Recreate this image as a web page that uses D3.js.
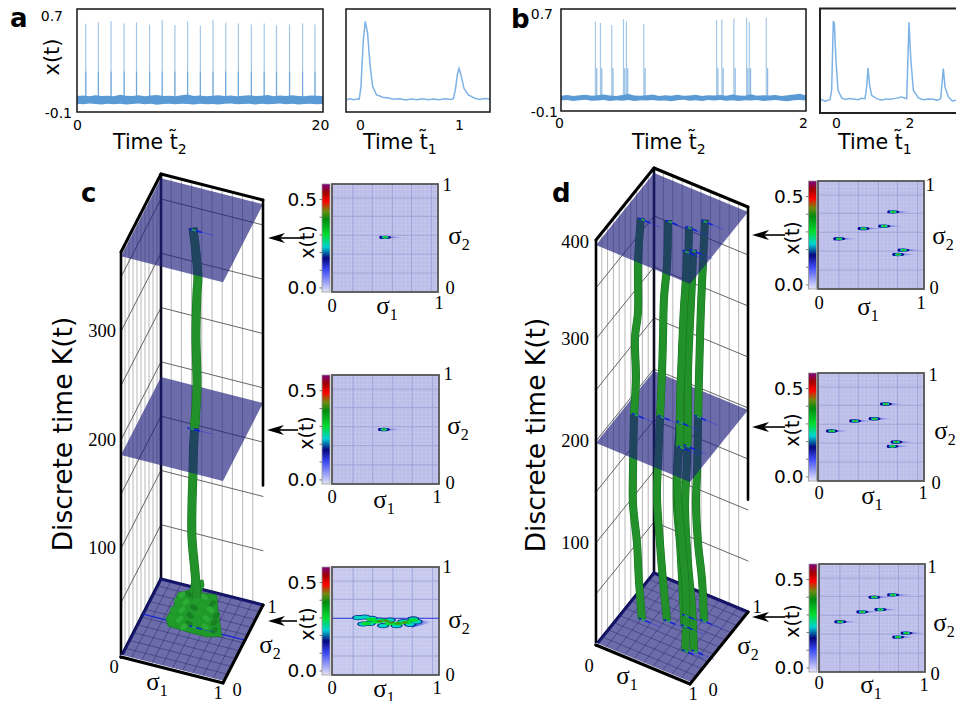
<!DOCTYPE html>
<html><head><meta charset="utf-8">
<script src="https://cdnjs.cloudflare.com/ajax/libs/d3/7.8.5/d3.min.js"></script>
<style>html,body{margin:0;padding:0;background:#fff;overflow:hidden}svg{display:block}</style>
</head><body><svg id="fig" width="956" height="701" viewBox="0 0 956 701"></svg>
<script>
/* ---------- panel a : time series ---------- */
const aSpikeT   = [0.71,1.74,2.77,3.83,4.84,5.90,6.93,7.96,8.99,10.03,11.06,12.09,13.12,14.18,15.22,16.22,17.28,18.34,19.35];
const aSpikeTop = [0.586,0.596,0.606,0.588,0.596,0.578,0.617,0.573,0.604,0.570,0.617,0.593,0.588,0.580,0.588,0.573,0.580,0.588,0.580];
const aBandT    = [0,0.5,1,1.5,2,2.5,3,3.5,4,4.5,5,5.5,6,6.5,7,7.5,8,8.5,9,9.5,10,10.5,11,11.5,12,12.5,13,13.5,14,14.5,15,15.5,16,16.5,17,17.5,18,18.5,19,19.5,20];
const aBandHi   = [.024,.028,.022,.030,.024,.026,.022,.034,.026,.024,.030,.023,.028,.033,.024,.027,.022,.030,.036,.024,.028,.023,.026,.031,.024,.028,.022,.027,.030,.024,.026,.033,.023,.028,.024,.030,.025,.022,.029,.026,.024];
const aBandLo   = [-.036,-.040,-.034,-.038,-.042,-.036,-.039,-.035,-.041,-.037,-.034,-.040,-.036,-.043,-.038,-.035,-.040,-.036,-.038,-.042,-.035,-.039,-.037,-.041,-.036,-.034,-.040,-.038,-.036,-.041,-.035,-.039,-.037,-.034,-.040,-.036,-.042,-.038,-.035,-.039,-.037];
const aPeakT = [-.141,-.10,-.06,-.02,-.007,.01,.034,.054,.077,.10,.128,.168,.20,.236,.28,.337,.40,.46,.52,.572,.63,.69,.741,.80,.86,.92,.943,.963,.983,1.0,1.02,1.05,1.094,1.162,1.21,1.26,1.313];
const aPeakV = [-.006,.002,-.004,.003,.001,.097,.461,.604,.513,.279,.097,.032,.024,.012,.010,-.001,.003,-.006,.001,-.005,.002,-.004,.001,-.005,.002,-.002,.003,.071,.188,.240,.188,.084,.032,.006,-.002,.005,.001];
/* ---------- panel b : time series ---------- */
const bSpikeT   = [0.281,0.322,0.414,0.51,0.534,0.676,1.27,1.313,1.411,1.515,1.537,1.676];
const bSpikeTop = [0.599,0.591,0.573,0.62,0.604,0.58,0.612,0.62,0.627,0.632,0.60,0.632];
const bBandT    = [0,.05,.1,.15,.2,.25,.3,.35,.4,.45,.5,.55,.6,.65,.7,.75,.8,.85,.9,.95,1,1.05,1.1,1.15,1.2,1.25,1.3,1.35,1.4,1.45,1.5,1.55,1.6,1.65,1.7,1.75,1.8,1.85,1.9,1.95,2];
const bBandHi   = [.020,.026,.018,.024,.028,.019,.023,.030,.021,.018,.026,.033,.022,.019,.024,.029,.018,.023,.020,.027,.019,.022,.028,.018,.024,.021,.026,.019,.029,.022,.020,.032,.019,.024,.021,.026,.018,.023,.030,.036,.022];
const bBandLo   = [-.018,-.014,-.022,-.016,-.012,-.020,-.017,-.013,-.021,-.015,-.019,-.014,-.022,-.016,-.018,-.013,-.020,-.017,-.023,-.015,-.012,-.019,-.016,-.021,-.014,-.018,-.013,-.020,-.016,-.022,-.015,-.018,-.013,-.021,-.017,-.014,-.019,-.023,-.016,-.013,-.018];
const bPeakT = [-.436,-.418,-.30,-.164,-.118,-.073,-.045,0,.055,.155,.25,.36,.473,.60,.70,.791,.836,.873,.918,.973,1.11,1.25,1.36,1.473,1.62,1.79,1.927,1.955,1.991,2.036,2.109,2.245,2.38,2.52,2.655,2.76,2.855,2.891,2.927,2.973,3.064,3.17,3.273];
const bPeakV = [-.008,.005,-.010,.002,.074,.605,.585,.304,.074,.015,.004,.011,.007,.001,.012,.010,.099,.245,.112,.035,.010,-.002,.008,.005,.012,.023,.010,.253,.595,.329,.074,.015,.001,.008,.005,-.003,.010,.125,.240,.099,.023,-.008,-.003];
const sharedYTicks = [-0.1,0.7];

/* ---------- panel c : 3-D trajectory ---------- */
const cPillarK  = [370,326,311,271,225,191,167,145,114,84,53,30];
const cPillarS1 = [.502,.55,.541,.531,.541,.522,.507,.502,.492,.492,.522,.54];
const cPillarS2 = .52;
const cBlobS1 = [.497,.608,.618,.588,.742,.755,.791,.644,.448,.265,.245,.314,.363,.48];
const cBlobK  = [45.4,49.6,45,37.4,39,25.4,1.8,-2,-1.9,-1,5.9,16.8,31.7,37.3];
const cFacetS1 = [.40,.47,.55,.62,.70,.36,.44,.52,.60,.68,.74,.32,.40,.48,.56,.64,.72,.30,.38,.47,.55,.63,.72,.52,.42];
const cFacetK  = [31,33,29,34,30,24,25,22,26,24,20,15,17,14,18,15,13,7,8,6,9,7,6,38,2];
const cKTickLabels = ['100','200','300'];
const cKTicks = [100,200,300];
const cPlanes = [0,186,369];
/* ---------- panel d : 3-D trajectories ---------- */
const dP1K=[393,349,300,273,234,197,140,110,73,37,0],      dP1S=[.191,.16,.16,.128,.138,.117,.106,.106,.149,.17,.202];
const dP2K=[393,349,315,275,239,196,151,117,73,38,0],      dP2S=[.42,.41,.378,.367,.356,.335,.314,.303,.335,.367,.41];
const dP3K=[393,355,322,282,242,205,147,114,79,28,0],      dP3S=[.632,.621,.61,.568,.557,.536,.504,.504,.536,.568,.584];
const dP4K=[394,352,309,276,236,197,142,113,74,40,0],      dP4S=[.719,.698,.677,.666,.655,.645,.634,.623,.645,.687,.708];
const dP5K=[394,366,336,292,239,203,182,148,105,53,0],     dP5S=[.77,.76,.738,.717,.696,.696,.674,.674,.717,.76,.751];
const dP6K=[393,361,321,271,232,182,138,84,42,0],          dP6S=[.81,.799,.778,.756,.756,.746,.725,.756,.799,.82];
const dPillarS2 = [.714,.58,.56,.465,.36,.32];
const dKTickLabels = ['100','200','300','400'];
const dKTicks = [100,200,300,395];
const dPlanes = [0,198,392];

/* ---------- heat-map insets : spike positions ---------- */
const cTopSpotS1=[.506], cTopSpotS2=[.506];
const cMidSpotS1=[.49],  cMidSpotS2=[.50];
const dTopSpotS1=[.204,.434,.629,.714,.811,.761], dTopSpotS2=[.465,.56,.582,.714,.36,.32];
const dMidSpotS1=[.135,.355,.538,.645,.745,.708], dMidSpotS2=[.463,.556,.577,.713,.361,.321];
const dBotSpotS1=[.703,.527,.584,.413,.205,.83,.751], dBotSpotS2=[.714,.692,.578,.557,.465,.36,.323];
const cBotOuterS1=[.244,.306,.369,.291,.353,.447,.541,.666,.759,.791,.478,.603,.728];
const cBotOuterS2=[.531,.537,.525,.472,.478,.509,.509,.494,.519,.494,.457,.457,.469];
const cBotMidS1=[.322,.369,.416,.478,.541,.619,.697,.759];
const cBotMidS2=[.478,.515,.494,.503,.478,.478,.488,.509];
const cBotHotS1=[.447,.509,.556,.619,.681];
const cBotHotS2=[.500,.503,.485,.478,.485];
const barValues=[-.023,.103,.169,.232,.301,.387,.435,.49,.539,.588];
const barColors=['#e6e6f8','#3a48f5','#06067e','#00d2d2','#00dd30','#008c10','#6f8a10','#ff0000','#a00000','#800080'];
const gridS1=[.197,.38,.57,.75,.94];
const gridS2=[.176,.352,.525,.70,.87];

/* ---------- drawing ---------- */
const svg=d3.select('#fig');
const SANS='"DejaVu Sans",sans-serif', SERIF='"Liberation Serif",serif';
const LINE='#5b9bd5', defs=svg.append('defs');
function txt(g,x,y,s,o={}){return g.append('text').attr('x',x).attr('y',y).text(s)
  .attr('font-family',o.f||SANS).attr('font-size',o.z||14).attr('text-anchor',o.a||'middle')
  .attr('font-weight',o.w||'normal').attr('fill','#000').attr('transform',o.rot?`rotate(${o.rot} ${x} ${y})`:null);}
function timeLabel(g,x,y,sub){const t=txt(g,x,y,'',{z:20.5,a:'start'});
  t.append('tspan').text('Time t\u0303');
  t.append('tspan').text(sub).attr('font-size',14).attr('dy',5);}
function sigma(g,cx,cy,sub){const t=txt(g,cx,cy+6,'',{f:SERIF,z:25});
  t.append('tspan').text('\u03c3'); t.append('tspan').text(sub).attr('font-size',16).attr('dy',6);}

function series(o){
  const g=svg.append('g');
  const x=d3.scaleLinear().domain(o.dom).range([o.x0,o.x1]);
  const y=d3.scaleLinear().domain([-0.1,0.7]).range([o.y1,o.y0]);
  const clip='c'+o.id;
  defs.append('clipPath').attr('id',clip).append('rect').attr('x',o.x0).attr('y',o.y0).attr('width',o.x1-o.x0).attr('height',o.y1-o.y0);
  const p=g.append('g').attr('clip-path',`url(#${clip})`);
  if(o.band){
    const area=d3.area().x((d,i)=>x(o.band[0][i])).y0((d,i)=>y(o.band[2][i])).y1((d,i)=>y(o.band[1][i]));
    p.append('path').attr('d',area(o.band[0])).attr('fill',LINE).attr('opacity',o.bandOp||1);
  }
  if(o.spikes){
    o.spikes[0].forEach((t,i)=>{
      p.append('line').attr('x1',x(t)).attr('x2',x(t)).attr('y1',y(0)).attr('y2',y(o.spikes[1][i]))
        .attr('stroke',LINE).attr('stroke-opacity',.55).attr('stroke-width',1.2);
      p.append('line').attr('x1',x(t)+o.off).attr('x2',x(t)+o.off).attr('y1',y(0)).attr('y2',y(o.lowTop))
        .attr('stroke',LINE).attr('stroke-opacity',.7).attr('stroke-width',1.2);
    });
  }
  if(o.trace){
    p.append('path').attr('d',d3.line().x((d,i)=>x(o.trace[0][i])).y(d=>y(d))(o.trace[1]))
      .attr('fill','none').attr('stroke','#7db2e6').attr('stroke-width',1.5);
  }
  g.append('rect').attr('x',o.x0).attr('y',o.y0).attr('width',o.x1-o.x0).attr('height',o.y1-o.y0)
    .attr('fill','none').attr('stroke','#222').attr('stroke-width',o.sw||1.6);
  const ax=g.append('g').attr('transform',`translate(0,${o.tickY})`)
    .call(d3.axisBottom(x).tickValues(o.ticks).tickSize(0).tickFormat(d3.format('d')));
  ax.select('.domain').remove();
  ax.selectAll('text').attr('y',0).attr('dy',0).attr('font-family',SANS).attr('font-size',14).attr('fill','#000')
    .attr('dx',(d,i)=>o.tickDx?o.tickDx[i]:0);
  timeLabel(g,o.labelX,o.labelY,o.sub);
  return y;
}
series({id:'a1',x0:77,x1:323,y0:9,y1:112,dom:[0,20],band:[aBandT,aBandHi,aBandLo],spikes:[aSpikeT,aSpikeTop],off:0,lowTop:.214,
  ticks:[0,20],tickY:130,tickDx:[0,-3],labelX:113,labelY:149,sub:'2'});
series({id:'a2',x0:346,x1:490,y0:9,y1:112,dom:[-.141,1.313],trace:[aPeakT,aPeakV],ticks:[0,1],tickY:130,labelX:363,labelY:149,sub:'1'});
series({id:'b1',x0:561,x1:806,y0:9,y1:111,dom:[0,2],band:[bBandT,bBandHi,bBandLo],spikes:[bSpikeT,bSpikeTop],off:1.3,lowTop:.235,
  ticks:[0,2],tickY:128,tickDx:[-2,-3],labelX:632,labelY:149,sub:'2'});
series({id:'b2',x0:820,x1:962,y0:8.5,y1:113,dom:[-.436,3.436],trace:[bPeakT,bPeakV],ticks:[0,2],tickY:128,labelX:838,labelY:149,sub:'1',sw:2});

const head=svg.append('g');
txt(head,63,21,sharedYTicks[1].toFixed(1),{a:'end'});
txt(head,72,118,'-0.1',{a:'end'});
txt(head,553,19,sharedYTicks[1].toFixed(1),{a:'end'});
txt(head,558,117,'-0.1',{a:'end'});
txt(head,59,57,'x(t)',{z:21,rot:-90});
[['a',10,27],['b',511,28],['c',81,202],['d',552,202]].forEach(d=>txt(head,d[1],d[2],d[0],{z:26,a:'start',w:'bold'}));

/* 3-D box */
function box3d(o){
  const g=svg.append('g');
  const xs1=d3.scaleLinear().domain([0,1]).range([0,o.v1[0]]), ys1=d3.scaleLinear().domain([0,1]).range([0,o.v1[1]]);
  const xs2=d3.scaleLinear().domain([0,1]).range([0,o.v2[0]]), ys2=d3.scaleLinear().domain([0,1]).range([0,o.v2[1]]);
  const yk=d3.scaleLinear().domain([0,o.kMax]).range([0,-o.h]);
  const P=(a,b,k)=>[o.ox+xs1(a)+xs2(b), o.oy+ys1(a)+ys2(b)+yk(k)];
  const ln=d3.line();
  const seg=(pts,st,w,op)=>g.append('path').attr('d',ln(pts)).attr('fill','none').attr('stroke',st).attr('stroke-width',w).attr('stroke-opacity',op==null?1:op).attr('stroke-linecap','round');
  /* walls */
  const tenths=d3.range(1,10).map(d=>d/10);
  tenths.forEach(t=>{
    seg([P(0,t,0),P(0,t,o.kMax)],'#b8b8b8',1);
    seg([P(t,1,0),P(t,1,o.kMax)],'#b8b8b8',1);
  });
  d3.range(50,o.kMax,50).forEach(k=>{
    seg([P(0,0,k),P(0,1,k)],'#555',.9);
    seg([P(0,1,k),P(1,1,k)],'#555',.9);
  });
  seg([P(0,1,0),P(0,1,o.kMax)],'#0c0c20',2.6);
  seg([P(0,0,0),P(0,0,o.kMax)],'#000',2.6);
  seg([P(0,0,0),P(0,1,0)],'#0a0a50',3.2);
  seg([P(0,1,0),P(1,1,0)],'#0a0a50',3.2);
  /* planes */
  const plane=(k)=>{
    g.append('path').attr('d',ln([P(0,0,k),P(1,0,k),P(1,1,k),P(0,1,k)])+'Z').attr('fill','rgb(29,29,125)').attr('fill-opacity',.65);
  };
  plane(o.planes[0]+1);
  tenths.forEach(t=>{
    seg([P(t,0,1),P(t,1,1)],'#1a1a60',.7,.6);
    seg([P(0,t,1),P(1,t,1)],'#1a1a60',.7,.6);
  });
  /* pillars split at the mid plane */
  const cut=(K,S,kc)=>{
    const lo=[],hi=[];
    for(let i=0;i<K.length;i++){
      if(K[i]>=kc)hi.push([S[i],K[i]]); else lo.push([S[i],K[i]]);
    }
    if(hi.length&&lo.length){
      const a=hi[hi.length-1],b=lo[0],f=(a[1]-kc)/(a[1]-b[1]);
      const m=[a[0]+(b[0]-a[0])*f,kc]; hi.push(m); lo.unshift(m);
    }
    return [lo,hi];
  };
  const pillar=(pts,b)=>{
    const path=d3.line().curve(d3.curveCatmullRom.alpha(.5))(pts.map(d=>P(d[0],b,d[1])));
    g.append('path').attr('d',path).attr('fill','none').attr('stroke','#15701d').attr('stroke-width',o.pw+1);
    g.append('path').attr('d',path).attr('fill','none').attr('stroke','#23912a').attr('stroke-width',o.pw);
  };
  const pieces=o.pillars.map(p=>({p,c:cut(p.K,p.S,o.planes[1])}));
  if(o.beforeLow)o.beforeLow(g,P);
  pieces.forEach(d=>pillar(d.c[0],d.p.b));
  plane(o.planes[1]);
  pieces.forEach(d=>pillar(d.c[1],d.p.b));
  if(o.afterMid)o.afterMid(g,P);
  plane(o.planes[2]);
  /* streak markers on planes */
  o.planes.forEach((k,i)=>{
    const sp=o.streaks[i];
    sp[0].forEach((a,j)=>{
      const b=sp[1][j];
      seg([P(a-.03,b,k),P(a+.08,b,k)],'#1020d8',1.6);
      seg([P(a+.08,b,k),P(a+.2,b,k)],'#2030e0',1,.45);
      seg([P(a-.005,b,k),P(a+.025,b,k)],'#2bb04a',1.4);
    });
  });
  /* outer edges */
  seg([P(0,0,o.kMax),P(0,1,o.kMax)],'#000',3);
  seg([P(0,1,o.kMax),P(1,1,o.kMax)],'#000',3);
  seg([P(1,1,o.kEdge),P(1,1,o.kMax)],'#000',2.6);
  seg([P(0,0,1.6),P(1,0,1.6)],'#fff',1.2);
  seg([P(0,0,0),P(1,0,0)],'#000',3);
  seg([P(1,0,0),P(1,1,0)],'#000',3);
  /* K tick labels */
  o.kLabels.forEach((s,i)=>{const p=P(0,0,o.kTicks[i]);txt(g,o.kLabelX,p[1]+6,s,{f:SERIF,z:18.5,a:'end'});});
  txt(g,o.zero[0],o.zero[1],'0',{f:SERIF,z:18.5});
  txt(g,o.oneB[0],o.oneB[1],'1',{f:SERIF,z:18.5});
  txt(g,o.zeroB[0],o.zeroB[1],'0',{f:SERIF,z:18.5});
  txt(g,o.oneR[0],o.oneR[1],'1',{f:SERIF,z:18.5});
  sigma(g,o.s1[0],o.s1[1],'1');
  sigma(g,o.s2[0],o.s2[1],'2');
  txt(g,o.yLab[0],o.yLab[1],'Discrete time K(t)',{z:26.5,rot:-90});
}

box3d({ox:121,oy:657,v1:[102,26],v2:[40,-78],kMax:373,h:405,pw:8,planes:cPlanes,kEdge:110,
  pillars:[{K:cPillarK,S:cPillarS1,b:cPillarS2}],
  streaks:[[cMidSpotS1,[.55]],[cMidSpotS1,cMidSpotS2],[cTopSpotS1,cTopSpotS2]],
  kLabels:cKTickLabels,kTicks:cKTicks,kLabelX:116,
  zero:[114,673],oneB:[218,699],zeroB:[237,696],oneR:[272,613],s1:[157,684],s2:[270,647],yLab:[72,434],
  beforeLow(g,P){
    const ln=d3.line();
    g.append('path').attr('d',ln([P(0,.55,0),P(1,.55,0)])).attr('stroke','#1828d0').attr('stroke-width',1.2).attr('fill','none');
    g.append('path').attr('d',ln(cBlobS1.map((a,i)=>P(a,.5,cBlobK[i])))+'Z').attr('fill','#1f9a2a').attr('stroke','#177a20').attr('stroke-width',.8).attr('stroke-linejoin','round');
    cFacetS1.forEach((a,i)=>{
      const p=P(a,.5,cFacetK[i]);
      g.append('ellipse').attr('cx',p[0]).attr('cy',p[1]).attr('rx',4).attr('ry',2.6).attr('transform',`rotate(${i%2?35:-40} ${p[0]} ${p[1]})`)
        .attr('fill',i%3==0?'#2cab36':(i%3==1?'#178023':'#249c2d'));
    });
  },
  afterMid(g,P){const p=P(cPillarS1[5],cPillarS2,cPlanes[1]+6);
    g.append('ellipse').attr('cx',p[0]).attr('cy',p[1]).attr('rx',5).attr('ry',5).attr('fill','#23912a');}
});
box3d({ox:596,oy:645,v1:[94,39],v2:[58,-72],kMax:397,h:405,pw:7,planes:dPlanes,kEdge:110,
  pillars:[{K:dP4K,S:dP4S,b:dPillarS2[0]},{K:dP3K,S:dP3S,b:dPillarS2[1]},{K:dP2K,S:dP2S,b:dPillarS2[2]},{K:dP1K,S:dP1S,b:dPillarS2[3]},{K:dP6K,S:dP6S,b:dPillarS2[4]},{K:dP5K,S:dP5S,b:dPillarS2[5]}],
  streaks:[[dBotSpotS1,dBotSpotS2],[dMidSpotS1,dMidSpotS2],[dTopSpotS1,dTopSpotS2]],
  kLabels:dKTickLabels,kTicks:dKTicks,kLabelX:589,
  zero:[589,672],oneB:[693,700],zeroB:[713,696],oneR:[757,613],s1:[627,678],s2:[748,648],yLab:[545,435]
});

/* colour-bar + heat-map insets */
const barColor=d3.scaleLinear().domain(barValues).range(barColors);
const gr=defs.append('linearGradient').attr('id','bar').attr('x1',0).attr('y1',1).attr('x2',0).attr('y2',0);
barValues.forEach((v,i)=>gr.append('stop').attr('offset',(v-barValues[0])/(barValues[9]-barValues[0])).attr('stop-color',barColors[i]));
const tailG=defs.append('linearGradient').attr('id','tail');
tailG.append('stop').attr('offset',0).attr('stop-color','#1c2cdc').attr('stop-opacity',.95);
tailG.append('stop').attr('offset',.45).attr('stop-color','#3545e0').attr('stop-opacity',.55);
tailG.append('stop').attr('offset',1).attr('stop-color','#8088e8').attr('stop-opacity',0);
defs.append('filter').attr('id','soft').attr('x','-30%').attr('y','-80%').attr('width','160%').attr('height','260%').append('feGaussianBlur').attr('stdDeviation',.45);

function inset(o){
  const g=svg.append('g');
  const x=d3.scaleLinear().domain([0,1]).range([o.x0,o.x1]);
  const y=d3.scaleLinear().domain([0,1]).range([o.y1,o.y0]);
  const v=d3.scaleLinear().domain([barValues[0],barValues[9]]).range([o.y1,o.y0]);
  g.append('rect').attr('x',o.x0).attr('y',o.y0).attr('width',o.x1-o.x0).attr('height',o.y1-o.y0).attr('fill',o.bg||'#bcbeea');
  d3.range(.0365,1,.0365).forEach(t=>{
    g.append('line').attr('x1',x(t)).attr('x2',x(t)).attr('y1',o.y0).attr('y2',o.y1).attr('stroke','#fff').attr('stroke-opacity',.1);
    g.append('line').attr('y1',y(t)).attr('y2',y(t)).attr('x1',o.x0).attr('x2',o.x1).attr('stroke','#fff').attr('stroke-opacity',.1);
  });
  gridS1.forEach(t=>g.append('line').attr('x1',x(t)).attr('x2',x(t)).attr('y1',o.y0).attr('y2',o.y1).attr('stroke','#9fa2d6').attr('stroke-width',.9));
  gridS2.forEach(t=>g.append('line').attr('y1',y(t)).attr('y2',y(t)).attr('x1',o.x0).attr('x2',o.x1).attr('stroke','#9fa2d6').attr('stroke-width',.9));
  const heat=g.append('g').attr('filter','url(#soft)');
  if(o.spots)o.spots[0].forEach((a,i)=>{
    const cx=x(a),cy=y(o.spots[1][i]);
    heat.append('path').attr('d',`M${cx-6},${cy-1.6}L${cx+20},${cy}L${cx-6},${cy+1.6}Z`).attr('fill','url(#tail)');
    [[.169,6,1.7,-.5],[.232,3.5,1.3,-.5],[.301,2.6,1.05,-.5],[.44,1,.7,-.5]].forEach(l=>{
      heat.append('ellipse').attr('cx',cx+l[3]).attr('cy',cy).attr('rx',l[1]).attr('ry',l[2]).attr('fill',barColor(l[0]));
    });
  });
  if(o.custom)o.custom(heat,x,y);
  g.append('rect').attr('x',o.x0).attr('y',o.y0).attr('width',o.x1-o.x0).attr('height',o.y1-o.y0).attr('fill','none').attr('stroke','#555').attr('stroke-width',1.8);
  g.append('rect').attr('x',o.bx).attr('y',o.y0).attr('width',8).attr('height',o.y1-o.y0).attr('fill','url(#bar)').attr('stroke','#999').attr('stroke-width',.8);
  d3.range(0,.6,.1).forEach(t=>g.append('line').attr('x1',o.bx-2.5).attr('x2',o.bx).attr('y1',v(t)).attr('y2',v(t)).attr('stroke','#555').attr('stroke-width',.8));
  [0,.5].forEach(t=>txt(g,o.bx-5,v(t)+6.5,t.toFixed(1),{z:18.5,a:'end'}));
  txt(g,o.xt[0]+6,o.xt[1],'x(t)',{z:19,rot:-90});
  txt(g,o.oneT[0],o.oneT[1]+6,'1',{f:SERIF,z:18.5});
  txt(g,o.zeroR[0],o.zeroR[1]+6,'0',{f:SERIF,z:18.5});
  txt(g,o.zeroB[0],o.zeroB[1]+6,'0',{f:SERIF,z:18.5});
  txt(g,o.oneB[0],o.oneB[1]+6,'1',{f:SERIF,z:18.5});
  sigma(g,o.s1[0],o.s1[1],'1');
  sigma(g,o.s2[0],o.s2[1],'2');
  /* arrow */
  const ay=o.ar[0],ax0=o.ar[1],ax1=o.ar[2];
  g.append('line').attr('x1',ax0+8).attr('x2',ax1).attr('y1',ay).attr('y2',ay).attr('stroke','#000').attr('stroke-width',1.6);
  g.append('path').attr('d',`M${ax0},${ay}L${ax0+17},${ay-5}L${ax0+12},${ay}L${ax0+17},${ay+5}Z`).attr('fill','#000');
}
inset({x0:332,x1:438,y0:184,y1:292,bx:322,spots:[cTopSpotS1,cTopSpotS2],s2:[459,238],oneT:[447,185],zeroR:[450,288],zeroB:[332,306],oneB:[439,303],s1:[387,308],xt:[308,242],ar:[238,268,304]});
inset({x0:332,x1:439,y0:375,y1:484,bx:322,spots:[cMidSpotS1,cMidSpotS2],s2:[458,428],oneT:[448,374],zeroR:[450,483],zeroB:[332,497],oneB:[437,497],s1:[384,502],xt:[307,433],ar:[430,267,298]});
inset({x0:332,x1:439,y0:567,y1:675,bx:322,bg:'#c6c8ee',s2:[459,622],oneT:[447,567],zeroR:[450,675],zeroB:[332,688],oneB:[437,688],s1:[384,691],xt:[308,624],ar:[621,268,297],
  custom(h,x,y){
    h.append('line').attr('x1',x(0)).attr('x2',x(1)).attr('y1',y(.525)).attr('y2',y(.525)).attr('stroke','#3040e0').attr('stroke-width',1);
    h.append('path').attr('d',`M${x(.75)},${y(.52)}L${x(.95)},${y(.49)}L${x(.75)},${y(.44)}Z`).attr('fill','url(#tail)');
    cBotOuterS1.forEach((a,i)=>h.append('ellipse').attr('cx',x(a)).attr('cy',y(cBotOuterS2[i])).attr('rx',6).attr('ry',2.6).attr('fill',barColor(.18)));
    cBotOuterS1.forEach((a,i)=>h.append('ellipse').attr('cx',x(a)).attr('cy',y(cBotOuterS2[i])).attr('rx',4.6).attr('ry',1.8).attr('fill',barColor(.24)));
    cBotMidS1.forEach((a,i)=>h.append('ellipse').attr('cx',x(a)).attr('cy',y(cBotMidS2[i])).attr('rx',5).attr('ry',1.8).attr('fill',barColor(.30)));
    cBotHotS1.forEach((a,i)=>h.append('ellipse').attr('cx',x(a)).attr('cy',y(cBotHotS2[i])).attr('rx',3).attr('ry',1).attr('fill',barColor(.42)));
  }});
inset({x0:818,x1:924,y0:181,y1:289,bx:808.5,spots:[dTopSpotS1,dTopSpotS2],s2:[943,238],oneT:[930,185],zeroR:[934,288],zeroB:[819,303],oneB:[921,303],s1:[868,309],xt:[793,238],ar:[235,752,785]});
inset({x0:818,x1:924,y0:373,y1:481,bx:808.5,spots:[dMidSpotS1,dMidSpotS2],s2:[945,433],oneT:[933,375],zeroR:[936,483],zeroB:[819,493],oneB:[923,493],s1:[872,498],xt:[793,430],ar:[427,752,785]});
inset({x0:819,x1:925,y0:564,y1:672,bx:809,spots:[dBotSpotS1,dBotSpotS2],s2:[944,625],oneT:[932,567],zeroR:[935,674],zeroB:[819,683],oneB:[924,685],s1:[871,687],xt:[793,621],ar:[617,752,785]});
</script></body></html>
